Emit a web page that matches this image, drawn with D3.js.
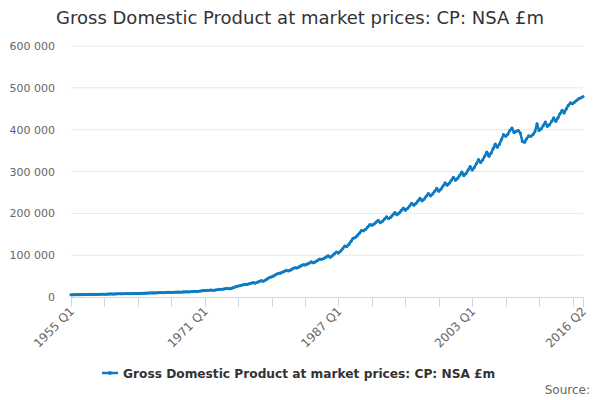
<!DOCTYPE html>
<html><head><meta charset="utf-8">
<script src="https://cdn.jsdelivr.net/npm/d3@7"></script>
<style>body{margin:0;background:#fff}text{font-family:"DejaVu Sans",sans-serif}</style>
</head><body><svg id="c" width="600" height="400"></svg>
<script>
const title = "Gross Domestic Product at market prices: CP: NSA £m";
const seriesName = "Gross Domestic Product at market prices: CP: NSA £m";
const startYear = 1955;
const yTicks = [0,100000,200000,300000,400000,500000,600000];
const values = [
5171,5297,5477,5661, 5565,5693,5879,6069, 5999,6098,6271,6436, 6255,6386,6583,6783,
6609,6772,6995,7232, 7102,7267,7497,7742, 7634,7772,7990,8211, 7988,8158,8402,8660,
8412,8623,8934,9241, 9101,9316,9638,9955, 9830,10029,10331,10639, 10451,10633,10914,11210,
10874,11098,11447,11791, 11525,11781,12161,12546, 12165,12524,13015,13515, 13051,13613,14321,15045,
15366,15741,16181,16728, 15859,16533,17387,18258, 18321,19008,19899,20808, 19454,21038,22864,24735,
26103,27225,28643,30090, 30043,31185,32663,34170, 33244,34898,36934,39015, 37676,40343,43466,46665,
48265,50490,53265,56100, 56884,58658,61054,63495, 62449,64449,67235,69972, 69344,71379,74270,77112,
76584,78458,81154,83895, 81755,84150,87435,90780, 90029,92169,95375,98532, 95053,98505,103013,107610,
105001,109791,115676,121788, 120663,126225,133163,140250, 142234,146619,152660,158712, 158093,161865,167333,172890,
171784,174339,178790,183192, 177546,180923,186176,191505, 187396,190823,196226,201705, 196902,200574,206427,212262,
207343,211365,217583,223890, 219557,223344,229542,235722, 229998,234135,240698,247350, 241818,246015,252758,259590,
252899,257648,265069,272595, 267428,271755,278888,286110, 279248,283635,290948,298350, 289984,295119,303410,311712,
303626,309623,318836,328185, 321701,327591,336776,346188, 336624,343778,354514,365415, 357949,365409,376775,388212,
384000,389000,398000,404000, 393000,396000,398000,392000, 372000,370000,378000,385000, 384000,388000,395000,414000,
398000,402000,410000,418000, 408000,412000,420000,428000, 420000,428000,438000,446000, 440000,450000,458000,464000,
462000,466000,470000,474000, 476000,479000
];
const labels = values.map((v,i)=>`${startYear+Math.floor(i/4)} Q${i%4+1}`);

const svg = d3.select("#c");
const x = d3.scaleLinear().domain([0, values.length-1]).range([71, 583]);
const y = d3.scaleLinear().domain([0, 600000]).range([297, 46]);
const fmt = v => d3.format(",")(v).replace(/,/g, " ");

svg.append("text").attr("x",300).attr("y",24).attr("text-anchor","middle")
  .attr("font-size",18).attr("fill","#333").text(title);

const g = svg.append("g");
yTicks.forEach(t=>{
  if(t>0) g.append("line").attr("x1",71).attr("x2",583).attr("y1",y(t)).attr("y2",y(t)).attr("stroke","#e6e6e6");
  g.append("text").attr("x",55).attr("y",y(t)+4).attr("text-anchor","end").attr("font-size",11).attr("fill","#666").text(fmt(t));
});
g.append("line").attr("x1",71).attr("x2",583).attr("y1",297.5).attr("y2",297.5).attr("stroke","#ccd6eb");
const tickIdx = d3.range(0, values.length, 16).concat([values.length-1]);
tickIdx.forEach(i=>{
  g.append("line").attr("x1",Math.round(x(i))+0.5).attr("x2",Math.round(x(i))+0.5).attr("y1",297).attr("y2",307).attr("stroke","#ccd6eb");
});
[0,64,128,192,values.length-1].forEach(i=>{
  g.append("text").attr("transform",`translate(${x(i)+4},${312}) rotate(-45)`).attr("text-anchor","end")
    .attr("font-size",12).attr("fill","#666").text(labels[i]);
});

const line = d3.line().x((d,i)=>x(i)).y(d=>y(d));
svg.append("path").datum(values).attr("d",line).attr("fill","none").attr("stroke","#0c7bc2").attr("stroke-width",2.5).attr("stroke-linejoin","round");
svg.append("g").selectAll("circle").data(values).join("circle")
  .attr("cx",(d,i)=>x(i)).attr("cy",d=>y(d)).attr("r",1.6).attr("fill","#0c7bc2");

const lg = svg.append("g");
lg.append("line").attr("x1",102).attr("x2",118).attr("y1",373).attr("y2",373).attr("stroke","#0c7bc2").attr("stroke-width",2.5);
lg.append("circle").attr("cx",110).attr("cy",373).attr("r",2).attr("fill","#0c7bc2");
lg.append("text").attr("x",123).attr("y",378).attr("font-size",12.2).attr("font-weight","bold").attr("fill","#333").text(seriesName);
svg.append("text").attr("x",590).attr("y",394).attr("text-anchor","end").attr("font-size",12).attr("fill","#666").text("Source:");
</script></body></html>
